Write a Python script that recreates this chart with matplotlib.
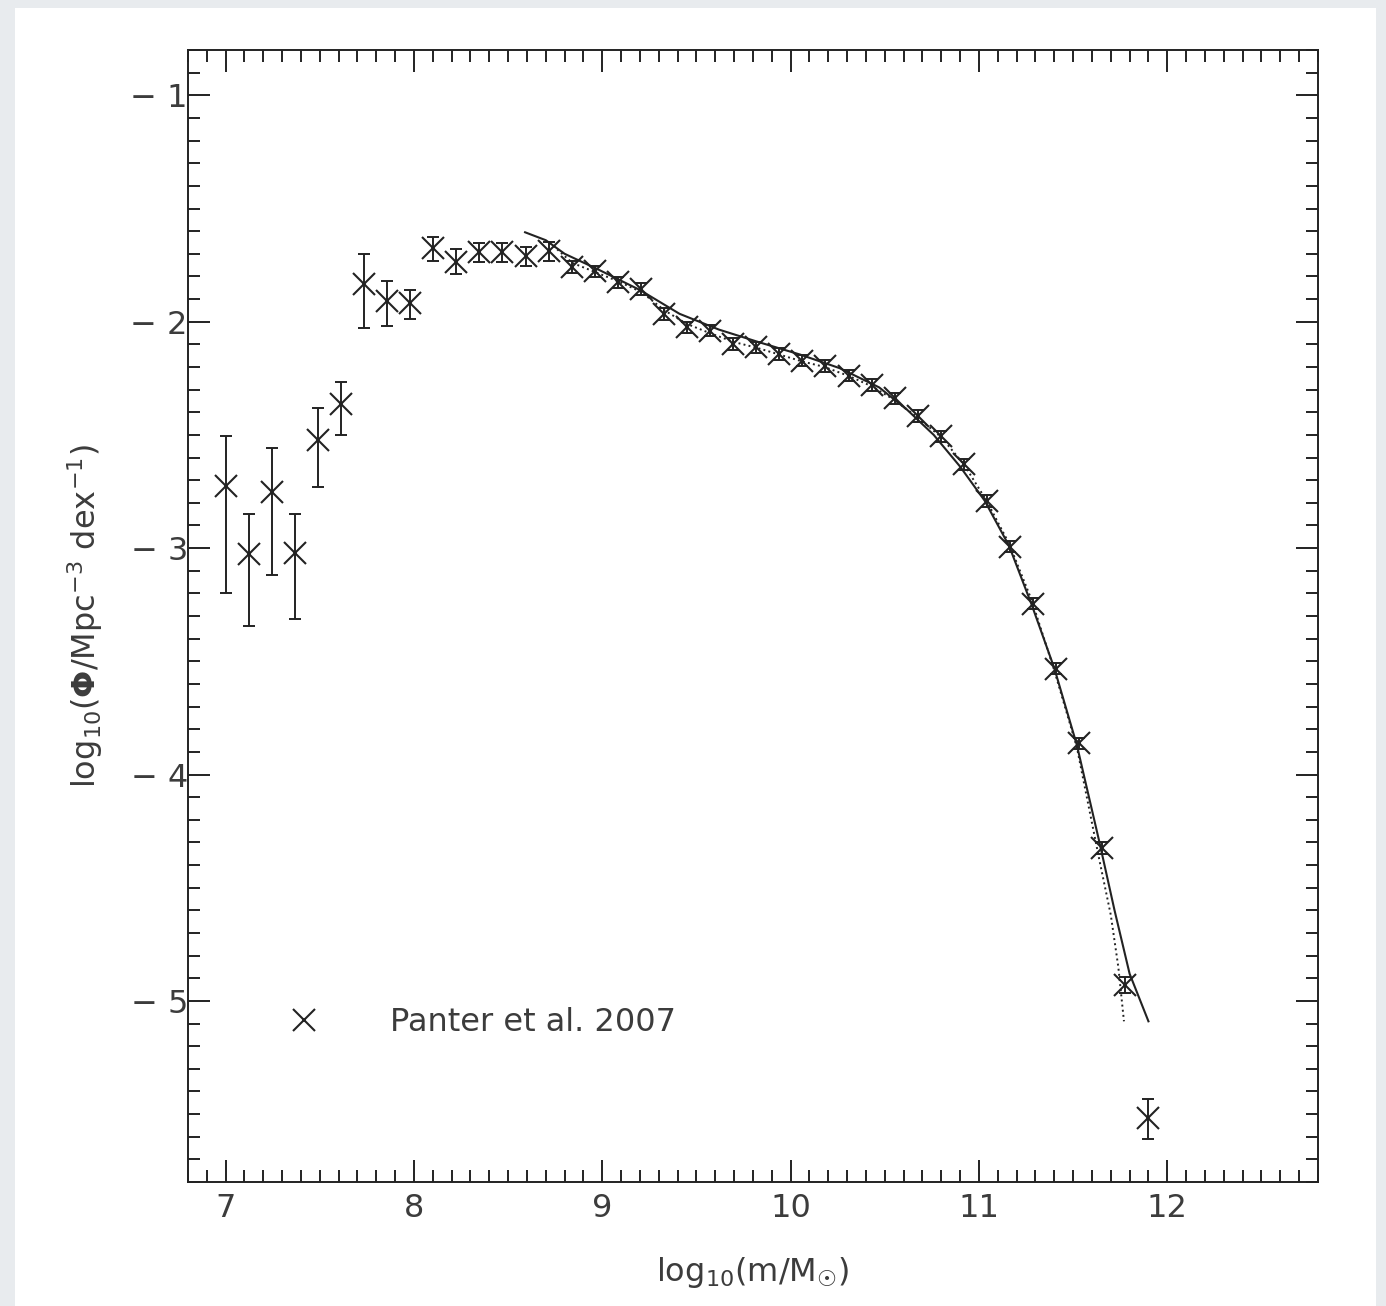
"""Galaxy stellar mass function: Panter et al. 2007 points with model curves."""

import matplotlib

matplotlib.use("Agg")

import matplotlib.pyplot as plt
from matplotlib.patches import Rectangle
from matplotlib.ticker import FuncFormatter, MultipleLocator

plt.rcParams["font.family"] = ["DejaVu Sans"]
plt.rcParams["mathtext.fontset"] = "dejavusans"

# Panter et al. 2007 binned mass function
log_mass = [
    7.000, 7.1225, 7.245, 7.3675, 7.490, 7.6125, 7.735, 7.8575, 7.980,
    8.1025, 8.225, 8.3475, 8.470, 8.5925, 8.715, 8.8375, 8.960, 9.0825,
    9.205, 9.3275, 9.450, 9.5725, 9.695, 9.8175, 9.940, 10.0625, 10.185,
    10.3075, 10.430, 10.5525, 10.675, 10.7975, 10.920, 11.0425, 11.165,
    11.2875, 11.410, 11.5325, 11.655, 11.7775, 11.900,
]
log_phi = [
    -2.726, -3.028, -2.750, -3.020, -2.522, -2.364, -1.833, -1.907, -1.917,
    -1.675, -1.737, -1.693, -1.693, -1.711, -1.686, -1.759, -1.778, -1.826,
    -1.855, -1.966, -2.025, -2.040, -2.099, -2.113, -2.143, -2.172, -2.195,
    -2.239, -2.280, -2.339, -2.416, -2.507, -2.630, -2.792, -2.994,
    -3.245, -3.533, -3.862, -4.325, -4.930, -5.515,
]
err_low = [
    0.474, 0.314, 0.367, 0.292, 0.206, 0.136, 0.195, 0.111, 0.071,
    0.055, 0.052, 0.044, 0.044, 0.041, 0.044, 0.025, 0.025, 0.025,
    0.025, 0.025, 0.025, 0.025, 0.025, 0.025, 0.025, 0.025, 0.025,
    0.025, 0.025, 0.025, 0.025, 0.025, 0.025, 0.025, 0.025,
    0.025, 0.025, 0.025, 0.025, 0.035, 0.097,
]
err_high = [
    0.222, 0.177, 0.194, 0.172, 0.143, 0.096, 0.133, 0.088, 0.059,
    0.048, 0.059, 0.041, 0.041, 0.040, 0.037, 0.025, 0.025, 0.025,
    0.025, 0.025, 0.025, 0.025, 0.025, 0.025, 0.025, 0.025, 0.025,
    0.025, 0.025, 0.025, 0.025, 0.025, 0.025, 0.025, 0.025,
    0.025, 0.025, 0.025, 0.025, 0.035, 0.080,
]

# model curves
solid_x = [8.59, 8.70, 8.80, 8.98, 9.20, 9.41, 9.62, 9.83, 10.05, 10.26,
           10.47, 10.62, 10.76, 10.90, 11.03, 11.16, 11.28, 11.40, 11.52,
           11.64, 11.72, 11.80, 11.90]
solid_y = [-1.605, -1.640, -1.700, -1.770, -1.860, -1.965, -2.035, -2.090,
           -2.145, -2.205, -2.290, -2.390, -2.500, -2.640, -2.790, -2.990,
           -3.250, -3.530, -3.870, -4.300, -4.600, -4.880, -5.090]
dotted_x = [8.72, 8.84, 8.96, 9.08, 9.21, 9.33, 9.45, 9.57, 9.70, 9.82,
            9.94, 10.06, 10.18, 10.31, 10.43, 10.55, 10.67, 10.80, 10.92,
            11.04, 11.16, 11.28, 11.40, 11.52, 11.64, 11.70, 11.74, 11.77]
dotted_y = [-1.650, -1.740, -1.780, -1.820, -1.870, -1.950, -2.010, -2.050,
            -2.090, -2.115, -2.145, -2.175, -2.200, -2.240, -2.285, -2.345,
            -2.420, -2.510, -2.630, -2.790, -2.980, -3.230, -3.540, -3.880,
            -4.380, -4.620, -4.850, -5.090]

ink = "#222222"
text_col = "#3c3c3c"

fig = plt.figure(figsize=(13.86, 13.06), dpi=100, facecolor="#e8ebee")
fig.patches.append(Rectangle((0.0108, 0.0), 0.982, 0.9939, transform=fig.transFigure,
                             facecolor="white", edgecolor="none", zorder=-10))
ax = fig.add_axes([0.1356, 0.0949, 0.8153, 0.8668])
ax.set_facecolor("white")

ax.plot(solid_x, solid_y, color=ink, lw=1.5, zorder=2)
ax.plot(dotted_x, dotted_y, color=ink, lw=1.4, ls=":", zorder=2)

ax.errorbar(log_mass, log_phi, yerr=[err_low, err_high], fmt="none",
            ecolor=ink, elinewidth=1.4, capsize=4.5, capthick=1.4, zorder=3)
ax.plot(log_mass, log_phi, ls="none", marker="x", ms=16, mew=1.5,
        color=ink, label="Panter et al. 2007", zorder=4)

ax.set_xlim(6.8, 12.8)
ax.set_ylim(-5.8, -0.8)
ax.xaxis.set_major_locator(MultipleLocator(1))
ax.xaxis.set_minor_locator(MultipleLocator(0.1))
ax.yaxis.set_major_locator(MultipleLocator(1))
ax.yaxis.set_minor_locator(MultipleLocator(0.1))
ax.xaxis.set_major_formatter(FuncFormatter(lambda v, _: f"{v:.0f}"))
ax.yaxis.set_major_formatter(FuncFormatter(lambda v, _: f"\u2212 {abs(v):.0f}"))

ax.tick_params(which="both", direction="in", top=True, right=True,
               color=ink, width=1.4, labelcolor=text_col, labelsize=23)
ax.tick_params(which="major", length=16)
ax.tick_params(which="minor", length=8.5)
ax.tick_params(axis="x", which="major", pad=8)
ax.tick_params(axis="y", which="major", pad=0)
for spine in ax.spines.values():
    spine.set_color(ink)
    spine.set_linewidth(1.4)

ax.set_xlabel("log$_{10}$(m/M$_{\u2609}$)", fontsize=23, color=text_col, labelpad=22)
ax.set_ylabel(r"log$_{10}$($\mathbf{\Phi}$/Mpc$^{-3}$ dex$^{-1}$)", fontsize=23,
              color=text_col, labelpad=18)

ax.legend(loc="center left", bbox_to_anchor=(0.0743, 0.141), frameon=False,
          fontsize=23, labelcolor=text_col, handlelength=2.0,
          handletextpad=1.7, borderpad=0, borderaxespad=0)

fig.savefig("out.png", dpi=100, facecolor=fig.get_facecolor())
plt.close(fig)
